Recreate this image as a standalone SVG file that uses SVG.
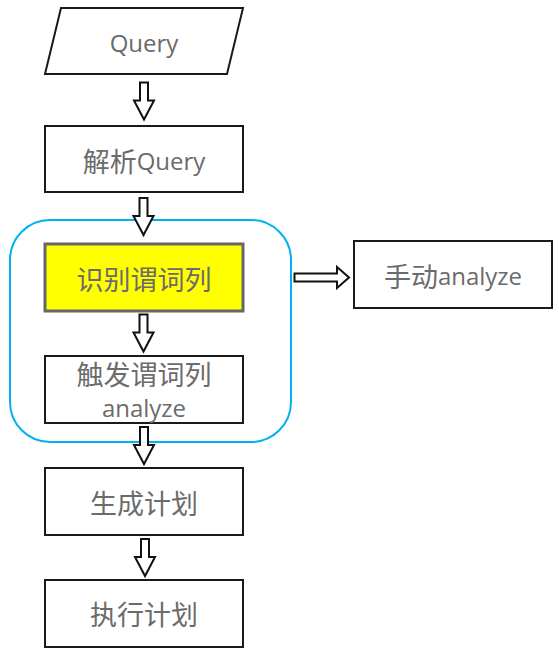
<svg xmlns="http://www.w3.org/2000/svg" width="559" height="650" viewBox="0 0 559 650">
<style>
.box{fill:#fff;stroke:#1a1a1a;stroke-width:2}
.arr{fill:#fff;stroke:#111;stroke-width:2;stroke-linejoin:miter}
.t{font-family:"Open Sans","Noto Sans CJK SC",sans-serif;font-size:24px;fill:#6b6b6b;text-anchor:middle;dominant-baseline:central}
.c{font-family:"Noto Sans CJK SC",sans-serif;font-size:27px}
</style>
<defs>
<path id="down" d="M-4,0 H4 V18 H10 L0,37 L-10,18 H-4 Z"/>
</defs>
<rect x="10" y="220" width="281" height="222" rx="40" ry="40" fill="none" stroke="#00b0f0" stroke-width="2"/>
<g id="connectors" class="arr">
<use href="#down" transform="translate(144,82.5)"/>
<use href="#down" transform="translate(143.5,198)"/>
<use href="#down" transform="translate(143.5,314.5)"/>
<use href="#down" transform="translate(144,427)"/>
<use href="#down" transform="translate(145,539)"/>
<path d="M294.5,273.5 H337 V267 L349,277.5 L337,288 V281.5 H294.5 Z"/>
</g>
<g id="query">
<polygon class="box" points="61,8 243,8 227,74 45,74"/>
<text class="t" x="144" y="42">Query</text>
</g>
<g id="parse">
<rect class="box" x="45" y="126" width="198" height="66"/>
<text class="t" x="144" y="160"><tspan class="c">解析</tspan>Query</text>
</g>
<g id="identify">
<rect x="45" y="244" width="198" height="67" fill="#ffff00" stroke="#666" stroke-width="3"/>
<text class="t c" x="144" y="278">识别谓词列</text>
</g>
<g id="trigger">
<rect class="box" x="45" y="356" width="198" height="67"/>
<text class="t c" x="144" y="373">触发谓词列</text>
<text class="t" x="144" y="407">analyze</text>
</g>
<g id="manual">
<rect class="box" x="354" y="241" width="198" height="67"/>
<text class="t" x="453" y="275"><tspan class="c">手动</tspan>analyze</text>
</g>
<g id="plan">
<rect class="box" x="45" y="468" width="198" height="67"/>
<text class="t c" x="144" y="502">生成计划</text>
</g>
<g id="exec">
<rect class="box" x="45" y="580" width="198" height="67"/>
<text class="t c" x="144" y="613">执行计划</text>
</g>
</svg>
